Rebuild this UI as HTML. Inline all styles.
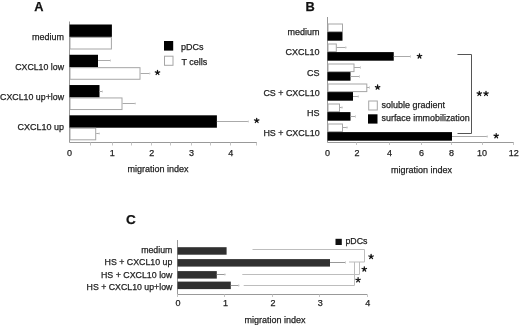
<!DOCTYPE html>
<html><head><meta charset="utf-8"><style>
html,body{margin:0;padding:0;background:#fff;}
svg{display:block;will-change:transform;font-family:"Liberation Sans",sans-serif;}
text{stroke:#222;stroke-width:0.25px;paint-order:stroke;}
</style></head><body>
<svg width="520" height="325" viewBox="0 0 520 325">
<text x="34.30" y="10.90" font-size="12.8" text-anchor="start" font-weight="bold" fill="#111">A</text>
<line x1="69.50" y1="21.50" x2="69.50" y2="142.50" stroke="#999" stroke-width="1"/>
<line x1="69.50" y1="142.50" x2="257.00" y2="142.50" stroke="#999" stroke-width="1"/>
<line x1="90.50" y1="142.50" x2="90.50" y2="145.50" stroke="#c4c4c4" stroke-width="1"/>
<line x1="112.50" y1="142.50" x2="112.50" y2="145.50" stroke="#c4c4c4" stroke-width="1"/>
<line x1="131.50" y1="142.50" x2="131.50" y2="145.50" stroke="#c4c4c4" stroke-width="1"/>
<line x1="151.50" y1="142.50" x2="151.50" y2="145.50" stroke="#c4c4c4" stroke-width="1"/>
<line x1="170.50" y1="142.50" x2="170.50" y2="145.50" stroke="#c4c4c4" stroke-width="1"/>
<line x1="191.50" y1="142.50" x2="191.50" y2="145.50" stroke="#c4c4c4" stroke-width="1"/>
<line x1="210.50" y1="142.50" x2="210.50" y2="145.50" stroke="#c4c4c4" stroke-width="1"/>
<line x1="230.50" y1="142.50" x2="230.50" y2="145.50" stroke="#c4c4c4" stroke-width="1"/>
<line x1="256.50" y1="142.50" x2="256.50" y2="145.50" stroke="#c4c4c4" stroke-width="1"/>
<text x="69.60" y="156.30" font-size="9.0" text-anchor="middle" font-weight="normal" fill="#1e1e1e">0</text>
<text x="112.20" y="156.30" font-size="9.0" text-anchor="middle" font-weight="normal" fill="#1e1e1e">1</text>
<text x="151.80" y="156.30" font-size="9.0" text-anchor="middle" font-weight="normal" fill="#1e1e1e">2</text>
<text x="191.60" y="156.30" font-size="9.0" text-anchor="middle" font-weight="normal" fill="#1e1e1e">3</text>
<text x="230.70" y="156.30" font-size="9.0" text-anchor="middle" font-weight="normal" fill="#1e1e1e">4</text>
<text x="158.00" y="171.50" font-size="9.0" text-anchor="middle" font-weight="normal" fill="#1e1e1e">migration index</text>
<rect x="69.50" y="24.50" width="42.40" height="12.40" fill="#000"/>
<rect x="70.00" y="37.40" width="41.40" height="11.60" fill="#fff" stroke="#a6a6a6" stroke-width="1"/>
<text x="64.00" y="39.70" font-size="9.0" text-anchor="end" font-weight="normal" fill="#1e1e1e">medium</text>
<rect x="69.50" y="54.77" width="28.50" height="12.40" fill="#000"/>
<rect x="70.00" y="67.67" width="70.00" height="11.60" fill="#fff" stroke="#a6a6a6" stroke-width="1"/>
<line x1="98.00" y1="60.50" x2="111.00" y2="60.50" stroke="#aaa" stroke-width="1"/>
<line x1="110.50" y1="59.50" x2="110.50" y2="61.50" stroke="#d0d0d0" stroke-width="1"/>
<line x1="140.50" y1="73.50" x2="150.20" y2="73.50" stroke="#aaa" stroke-width="1"/>
<line x1="149.70" y1="72.50" x2="149.70" y2="74.50" stroke="#d0d0d0" stroke-width="1"/>
<text x="64.00" y="69.75" font-size="9.0" text-anchor="end" font-weight="normal" fill="#1e1e1e" textLength="48.8" lengthAdjust="spacingAndGlyphs">CXCL10 low</text>
<rect x="69.50" y="85.04" width="30.00" height="12.40" fill="#000"/>
<rect x="70.00" y="97.94" width="52.00" height="11.60" fill="#fff" stroke="#a6a6a6" stroke-width="1"/>
<line x1="99.50" y1="91.50" x2="103.00" y2="91.50" stroke="#aaa" stroke-width="1"/>
<line x1="102.50" y1="90.50" x2="102.50" y2="92.50" stroke="#d0d0d0" stroke-width="1"/>
<line x1="122.50" y1="103.50" x2="135.70" y2="103.50" stroke="#aaa" stroke-width="1"/>
<line x1="135.20" y1="102.50" x2="135.20" y2="104.50" stroke="#d0d0d0" stroke-width="1"/>
<text x="64.00" y="99.80" font-size="9.0" text-anchor="end" font-weight="normal" fill="#1e1e1e" textLength="63.9" lengthAdjust="spacingAndGlyphs">CXCL10 up+low</text>
<rect x="69.50" y="115.31" width="147.40" height="12.40" fill="#000"/>
<rect x="70.00" y="128.21" width="25.70" height="11.60" fill="#fff" stroke="#a6a6a6" stroke-width="1"/>
<line x1="216.90" y1="121.50" x2="248.80" y2="121.50" stroke="#aaa" stroke-width="1"/>
<line x1="248.30" y1="120.50" x2="248.30" y2="122.50" stroke="#d0d0d0" stroke-width="1"/>
<line x1="96.20" y1="133.50" x2="99.70" y2="133.50" stroke="#aaa" stroke-width="1"/>
<line x1="99.20" y1="132.50" x2="99.20" y2="134.50" stroke="#d0d0d0" stroke-width="1"/>
<text x="64.00" y="129.85" font-size="9.0" text-anchor="end" font-weight="normal" fill="#1e1e1e">CXCL10 up</text>
<path d="M157.50,72.60L157.50,70.25M157.50,72.60L159.73,71.87M157.50,72.60L158.88,74.50M157.50,72.60L156.12,74.50M157.50,72.60L155.27,71.87" stroke="#111" stroke-width="1.25" stroke-linecap="round" fill="none"/>
<path d="M256.70,120.60L256.70,118.25M256.70,120.60L258.93,119.87M256.70,120.60L258.08,122.50M256.70,120.60L255.32,122.50M256.70,120.60L254.47,119.87" stroke="#111" stroke-width="1.25" stroke-linecap="round" fill="none"/>
<rect x="164.00" y="41.00" width="9.20" height="9.60" fill="#000"/>
<rect x="164.50" y="56.20" width="8.50" height="9.10" fill="#fff" stroke="#a6a6a6" stroke-width="1"/>
<text x="181.00" y="49.50" font-size="9.0" text-anchor="start" font-weight="normal" fill="#1e1e1e">pDCs</text>
<text x="181.50" y="64.50" font-size="9.0" text-anchor="start" font-weight="normal" fill="#1e1e1e">T cells</text>
<text x="305.50" y="11.20" font-size="12.8" text-anchor="start" font-weight="bold" fill="#111">B</text>
<line x1="327.50" y1="17.00" x2="327.50" y2="142.50" stroke="#999" stroke-width="1"/>
<line x1="327.50" y1="142.50" x2="513.80" y2="142.50" stroke="#999" stroke-width="1"/>
<line x1="356.50" y1="142.50" x2="356.50" y2="145.00" stroke="#c4c4c4" stroke-width="1"/>
<line x1="389.50" y1="142.50" x2="389.50" y2="145.00" stroke="#c4c4c4" stroke-width="1"/>
<line x1="421.50" y1="142.50" x2="421.50" y2="145.00" stroke="#c4c4c4" stroke-width="1"/>
<line x1="451.50" y1="142.50" x2="451.50" y2="145.00" stroke="#c4c4c4" stroke-width="1"/>
<line x1="482.50" y1="142.50" x2="482.50" y2="145.00" stroke="#c4c4c4" stroke-width="1"/>
<line x1="513.50" y1="142.50" x2="513.50" y2="145.00" stroke="#c4c4c4" stroke-width="1"/>
<text x="327.40" y="155.70" font-size="9.0" text-anchor="middle" font-weight="normal" fill="#1e1e1e">0</text>
<text x="356.90" y="155.70" font-size="9.0" text-anchor="middle" font-weight="normal" fill="#1e1e1e">2</text>
<text x="389.50" y="155.70" font-size="9.0" text-anchor="middle" font-weight="normal" fill="#1e1e1e">4</text>
<text x="421.50" y="155.70" font-size="9.0" text-anchor="middle" font-weight="normal" fill="#1e1e1e">6</text>
<text x="451.50" y="155.70" font-size="9.0" text-anchor="middle" font-weight="normal" fill="#1e1e1e">8</text>
<text x="482.00" y="155.70" font-size="9.0" text-anchor="middle" font-weight="normal" fill="#1e1e1e">10</text>
<text x="513.80" y="155.70" font-size="9.0" text-anchor="middle" font-weight="normal" fill="#1e1e1e">12</text>
<text x="421.60" y="173.00" font-size="9.0" text-anchor="middle" font-weight="normal" fill="#1e1e1e">migration index</text>
<rect x="328.00" y="24.00" width="14.50" height="7.60" fill="#fff" stroke="#a6a6a6" stroke-width="1"/>
<rect x="327.50" y="32.10" width="15.00" height="8.60" fill="#000"/>
<text x="319.60" y="35.30" font-size="9.0" text-anchor="end" font-weight="normal" fill="#1e1e1e">medium</text>
<rect x="328.00" y="44.00" width="8.30" height="7.60" fill="#fff" stroke="#a6a6a6" stroke-width="1"/>
<rect x="327.50" y="52.10" width="66.25" height="8.60" fill="#000"/>
<line x1="336.30" y1="47.50" x2="346.30" y2="47.50" stroke="#aaa" stroke-width="1"/>
<line x1="345.80" y1="46.30" x2="345.80" y2="48.70" stroke="#d0d0d0" stroke-width="1"/>
<line x1="393.75" y1="56.50" x2="411.00" y2="56.50" stroke="#aaa" stroke-width="1"/>
<line x1="410.50" y1="55.30" x2="410.50" y2="57.70" stroke="#d0d0d0" stroke-width="1"/>
<text x="319.60" y="55.40" font-size="9.0" text-anchor="end" font-weight="normal" fill="#1e1e1e">CXCL10</text>
<rect x="328.00" y="64.00" width="26.00" height="7.60" fill="#fff" stroke="#a6a6a6" stroke-width="1"/>
<rect x="327.50" y="72.10" width="23.00" height="8.60" fill="#000"/>
<line x1="354.00" y1="67.50" x2="361.00" y2="67.50" stroke="#aaa" stroke-width="1"/>
<line x1="360.50" y1="66.30" x2="360.50" y2="68.70" stroke="#d0d0d0" stroke-width="1"/>
<line x1="350.50" y1="76.50" x2="360.00" y2="76.50" stroke="#aaa" stroke-width="1"/>
<line x1="359.50" y1="75.30" x2="359.50" y2="77.70" stroke="#d0d0d0" stroke-width="1"/>
<text x="319.60" y="75.50" font-size="9.0" text-anchor="end" font-weight="normal" fill="#1e1e1e">CS</text>
<rect x="328.00" y="84.00" width="38.80" height="7.60" fill="#fff" stroke="#a6a6a6" stroke-width="1"/>
<rect x="327.50" y="92.10" width="25.50" height="8.60" fill="#000"/>
<line x1="366.80" y1="87.50" x2="370.00" y2="87.50" stroke="#aaa" stroke-width="1"/>
<line x1="369.50" y1="86.30" x2="369.50" y2="88.70" stroke="#d0d0d0" stroke-width="1"/>
<line x1="353.00" y1="96.50" x2="358.75" y2="96.50" stroke="#aaa" stroke-width="1"/>
<line x1="358.25" y1="95.30" x2="358.25" y2="97.70" stroke="#d0d0d0" stroke-width="1"/>
<text x="319.60" y="95.60" font-size="9.0" text-anchor="end" font-weight="normal" fill="#1e1e1e" textLength="56.2" lengthAdjust="spacingAndGlyphs">CS + CXCL10</text>
<rect x="328.00" y="104.00" width="11.50" height="7.60" fill="#fff" stroke="#a6a6a6" stroke-width="1"/>
<rect x="327.50" y="112.10" width="23.00" height="8.60" fill="#000"/>
<line x1="339.50" y1="107.50" x2="342.50" y2="107.50" stroke="#aaa" stroke-width="1"/>
<line x1="342.00" y1="106.30" x2="342.00" y2="108.70" stroke="#d0d0d0" stroke-width="1"/>
<line x1="350.50" y1="116.50" x2="356.00" y2="116.50" stroke="#aaa" stroke-width="1"/>
<line x1="355.50" y1="115.30" x2="355.50" y2="117.70" stroke="#d0d0d0" stroke-width="1"/>
<text x="319.60" y="115.70" font-size="9.0" text-anchor="end" font-weight="normal" fill="#1e1e1e">HS</text>
<rect x="328.00" y="124.00" width="14.50" height="7.60" fill="#fff" stroke="#a6a6a6" stroke-width="1"/>
<rect x="327.50" y="132.10" width="124.50" height="8.60" fill="#000"/>
<line x1="342.50" y1="127.50" x2="347.50" y2="127.50" stroke="#aaa" stroke-width="1"/>
<line x1="347.00" y1="126.30" x2="347.00" y2="128.70" stroke="#d0d0d0" stroke-width="1"/>
<line x1="452.00" y1="136.50" x2="487.70" y2="136.50" stroke="#aaa" stroke-width="1"/>
<line x1="487.20" y1="135.30" x2="487.20" y2="137.70" stroke="#d0d0d0" stroke-width="1"/>
<text x="319.60" y="135.80" font-size="9.0" text-anchor="end" font-weight="normal" fill="#1e1e1e" textLength="56.2" lengthAdjust="spacingAndGlyphs">HS + CXCL10</text>
<path d="M419.50,56.20L419.50,53.85M419.50,56.20L421.73,55.47M419.50,56.20L420.88,58.10M419.50,56.20L418.12,58.10M419.50,56.20L417.27,55.47" stroke="#111" stroke-width="1.25" stroke-linecap="round" fill="none"/>
<path d="M377.60,87.30L377.60,84.95M377.60,87.30L379.83,86.57M377.60,87.30L378.98,89.20M377.60,87.30L376.22,89.20M377.60,87.30L375.37,86.57" stroke="#111" stroke-width="1.25" stroke-linecap="round" fill="none"/>
<path d="M496.20,135.90L496.20,133.55M496.20,135.90L498.43,135.17M496.20,135.90L497.58,137.80M496.20,135.90L494.82,137.80M496.20,135.90L493.97,135.17" stroke="#111" stroke-width="1.25" stroke-linecap="round" fill="none"/>
<polyline points="457.50,54.50 471.50,54.50 471.50,133.50 457.50,133.50" fill="none" stroke="#555" stroke-width="1"/>
<path d="M479.30,93.60L479.30,91.25M479.30,93.60L481.53,92.87M479.30,93.60L480.68,95.50M479.30,93.60L477.92,95.50M479.30,93.60L477.07,92.87" stroke="#111" stroke-width="1.25" stroke-linecap="round" fill="none"/>
<path d="M486.00,93.60L486.00,91.25M486.00,93.60L488.23,92.87M486.00,93.60L487.38,95.50M486.00,93.60L484.62,95.50M486.00,93.60L483.77,92.87" stroke="#111" stroke-width="1.25" stroke-linecap="round" fill="none"/>
<rect x="368.70" y="101.00" width="8.60" height="9.00" fill="#fff" stroke="#a6a6a6" stroke-width="1"/>
<rect x="368.00" y="114.30" width="9.50" height="9.30" fill="#000"/>
<text x="381.50" y="108.30" font-size="9.0" text-anchor="start" font-weight="normal" fill="#1e1e1e">soluble gradient</text>
<text x="381.50" y="121.40" font-size="9.0" text-anchor="start" font-weight="normal" fill="#1e1e1e" textLength="88.2" lengthAdjust="spacingAndGlyphs">surface immobilization</text>
<text x="126.10" y="223.50" font-size="13.6" text-anchor="start" font-weight="bold" fill="#111">C</text>
<line x1="177.50" y1="240.00" x2="177.50" y2="294.50" stroke="#999" stroke-width="1"/>
<line x1="177.50" y1="294.50" x2="367.30" y2="294.50" stroke="#999" stroke-width="1"/>
<line x1="177.50" y1="294.50" x2="177.50" y2="297.00" stroke="#c4c4c4" stroke-width="1"/>
<line x1="224.50" y1="294.50" x2="224.50" y2="297.00" stroke="#c4c4c4" stroke-width="1"/>
<line x1="272.50" y1="294.50" x2="272.50" y2="297.00" stroke="#c4c4c4" stroke-width="1"/>
<line x1="319.50" y1="294.50" x2="319.50" y2="297.00" stroke="#c4c4c4" stroke-width="1"/>
<line x1="367.50" y1="294.50" x2="367.50" y2="297.00" stroke="#c4c4c4" stroke-width="1"/>
<text x="178.00" y="305.60" font-size="9.0" text-anchor="middle" font-weight="normal" fill="#1e1e1e">0</text>
<text x="225.45" y="305.60" font-size="9.0" text-anchor="middle" font-weight="normal" fill="#1e1e1e">1</text>
<text x="272.90" y="305.60" font-size="9.0" text-anchor="middle" font-weight="normal" fill="#1e1e1e">2</text>
<text x="320.35" y="305.60" font-size="9.0" text-anchor="middle" font-weight="normal" fill="#1e1e1e">3</text>
<text x="367.80" y="305.60" font-size="9.0" text-anchor="middle" font-weight="normal" fill="#1e1e1e">4</text>
<text x="275.00" y="323.00" font-size="9.0" text-anchor="middle" font-weight="normal" fill="#1e1e1e">migration index</text>
<rect x="177.50" y="247.20" width="49.10" height="7.50" fill="#303030"/>
<text x="172.40" y="253.30" font-size="9.0" text-anchor="end" font-weight="normal" fill="#1e1e1e" textLength="31.2" lengthAdjust="spacingAndGlyphs">medium</text>
<rect x="177.50" y="259.10" width="152.50" height="7.50" fill="#303030"/>
<line x1="330.00" y1="262.50" x2="346.00" y2="262.50" stroke="#999" stroke-width="1"/>
<line x1="345.50" y1="261.30" x2="345.50" y2="263.70" stroke="#d0d0d0" stroke-width="1"/>
<text x="172.40" y="265.47" font-size="9.0" text-anchor="end" font-weight="normal" fill="#1e1e1e" textLength="67.8" lengthAdjust="spacingAndGlyphs">HS + CXCL10 up</text>
<rect x="177.50" y="271.10" width="39.30" height="7.50" fill="#303030"/>
<line x1="216.80" y1="274.50" x2="225.40" y2="274.50" stroke="#999" stroke-width="1"/>
<line x1="224.90" y1="273.30" x2="224.90" y2="275.70" stroke="#d0d0d0" stroke-width="1"/>
<text x="172.40" y="277.64" font-size="9.0" text-anchor="end" font-weight="normal" fill="#1e1e1e" textLength="71.4" lengthAdjust="spacingAndGlyphs">HS + CXCL10 low</text>
<rect x="177.50" y="281.60" width="53.30" height="7.50" fill="#303030"/>
<line x1="230.80" y1="285.50" x2="239.20" y2="285.50" stroke="#999" stroke-width="1"/>
<line x1="238.70" y1="284.30" x2="238.70" y2="286.70" stroke="#d0d0d0" stroke-width="1"/>
<text x="172.40" y="289.81" font-size="9.0" text-anchor="end" font-weight="normal" fill="#1e1e1e" textLength="85.8" lengthAdjust="spacingAndGlyphs">HS + CXCL10 up+low</text>
<polyline points="252.50,249.50 364.50,249.50 364.50,262.00 349.00,262.00" fill="none" stroke="#bdbdbd" stroke-width="1"/>
<polyline points="242.30,274.50 359.50,274.50 359.50,262.00" fill="none" stroke="#bdbdbd" stroke-width="1"/>
<polyline points="243.70,285.50 354.50,285.50 354.50,262.00" fill="none" stroke="#bdbdbd" stroke-width="1"/>
<path d="M371.10,256.70L371.10,254.35M371.10,256.70L373.33,255.97M371.10,256.70L372.48,258.60M371.10,256.70L369.72,258.60M371.10,256.70L368.87,255.97" stroke="#111" stroke-width="1.25" stroke-linecap="round" fill="none"/>
<path d="M364.30,269.20L364.30,266.85M364.30,269.20L366.53,268.47M364.30,269.20L365.68,271.10M364.30,269.20L362.92,271.10M364.30,269.20L362.07,268.47" stroke="#111" stroke-width="1.25" stroke-linecap="round" fill="none"/>
<path d="M358.10,280.00L358.10,277.65M358.10,280.00L360.33,279.27M358.10,280.00L359.48,281.90M358.10,280.00L356.72,281.90M358.10,280.00L355.87,279.27" stroke="#111" stroke-width="1.25" stroke-linecap="round" fill="none"/>
<rect x="335.50" y="238.80" width="6.30" height="6.20" fill="#111"/>
<text x="345.40" y="243.90" font-size="9.0" text-anchor="start" font-weight="normal" fill="#1e1e1e" textLength="22.0" lengthAdjust="spacingAndGlyphs">pDCs</text>
</svg>
</body></html>
